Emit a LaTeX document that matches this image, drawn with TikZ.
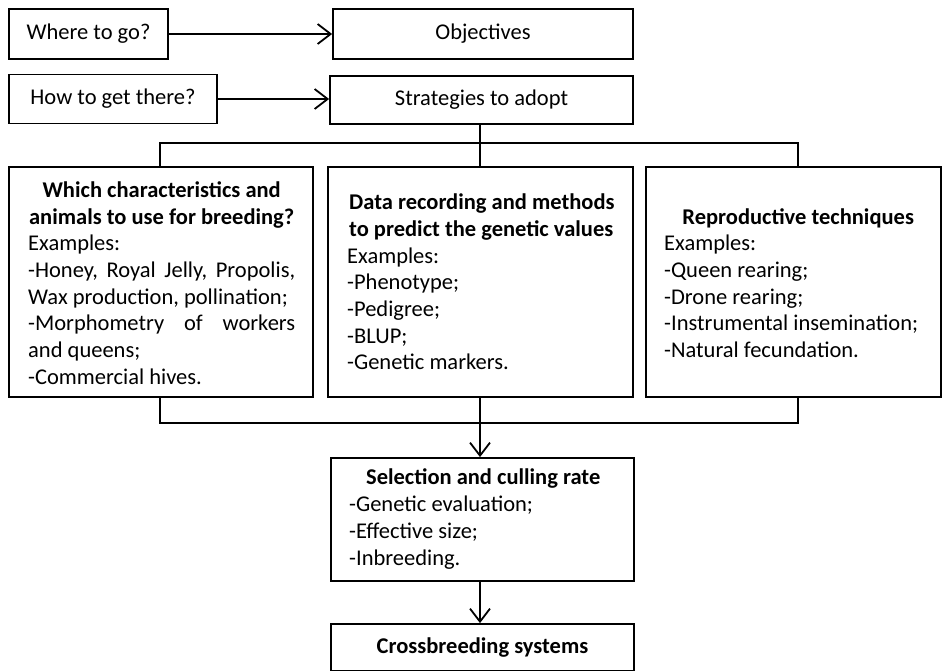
\documentclass[tikz,border=0pt]{standalone}
\usepackage{fontspec}
\setmainfont{Carlito}
\usetikzlibrary{arrows.meta}
\tikzset{
  box/.style={draw, line width=1.8pt, inner sep=0pt, fill=white},
  txt/.style={inner sep=0pt, font=\fontsize{22.5}{26.7}\selectfont},
  conn/.style={line width=1.8pt},
  arr/.style={line width=1.8pt, -{Straight Barb[length=13pt,width=20pt,line width=1.8pt]}},
}
\begin{document}
\begin{tikzpicture}[x=1pt,y=-1pt]
\useasboundingbox (0,0) rectangle (942,670);
% top row
\node[box, minimum width=159pt, minimum height=50pt, txt] (where) at (88.5,34) {Where to go?};
\node[box, minimum width=300pt, minimum height=50pt, txt] (obj) at (483,34) {Objectives};
\node[box, minimum width=208pt, minimum height=49pt, txt] (how) at (113,99) {How to get there?};
\node[box, minimum width=303pt, minimum height=48pt, txt] (strat) at (481.5,100) {Strategies to adopt};
\draw[arr] (where.east) -- (where.east -| obj.west);
\draw[arr] (how.east) -- (how.east -| strat.west);
% three boxes
\node[box, minimum width=304pt, minimum height=230pt] (lbox) at (161,282) {};
\node[box, minimum width=305pt, minimum height=230pt] (mbox) at (480.5,282) {};
\node[box, minimum width=295pt, minimum height=230pt] (rbox) at (793.5,282) {};
\node[txt, anchor=west] (ltext) at (28,283) {\begin{minipage}{267pt}
{\centering\bfseries Which characteristics and\\ animals to use for breeding?\par}
Examples:\\
-Honey,\hfill Royal\hfill Jelly,\hfill Propolis,\\
Wax production, pollination;\\
-Morphometry\hfill of\hfill workers\\
and queens;\\
-Commercial hives.
\end{minipage}};
\node[txt, anchor=west] (mtext) at (347,282) {\begin{minipage}{272pt}\raggedright
{\bfseries\hspace*{2pt}Data recording and methods\\ \hspace*{2pt}to predict the genetic values\par}
Examples:\\
-Phenotype;\\
-Pedigree;\\
-BLUP;\\
-Genetic markers.
\end{minipage}};
\node[txt, anchor=west] (rtext) at (664,283) {\begin{minipage}{268pt}
{\centering\bfseries Reproductive techniques\par}
\raggedright
Examples:\\
-Queen rearing;\\
-Drone rearing;\\
-Instrumental insemination;\\
-Natural fecundation.
\end{minipage}};
% connectors top
\coordinate (tl) at (160,143);
\coordinate (tr) at (798,143);
\coordinate (bl) at (160,423);
\coordinate (br) at (798,423);
\coordinate (bm) at (480,423);
\draw[conn] (bm |- strat.south) -- (bm |- tl);
\draw[conn] (tl |- lbox.north) -- (tl) -- (tr) -- (tr |- rbox.north);
\draw[conn] (bm |- tl) -- (bm |- mbox.north);
% selection
\node[box, minimum width=303pt, minimum height=123pt] (sel) at (482.5,519.5) {};
\node[txt, anchor=west] (seltext) at (349,519) {\begin{minipage}{268pt}
{\centering\bfseries Selection and culling rate\par}
\raggedright
-Genetic evaluation;\\
-Effective size;\\
-Inbreeding.
\end{minipage}};
\draw[conn] (tl |- lbox.south) -- (bl) -- (br) -- (tr |- rbox.south);
\draw[conn] (bm |- mbox.south) -- (bm);
\draw[arr] (bm) -- (bm |- sel.north);
% crossbreeding
\node[box, minimum width=303pt, minimum height=47pt, txt, font=\fontsize{22.5}{26.7}\selectfont\bfseries] (cross) at (482.5,647.5) {Crossbreeding systems};
\draw[arr] (bm |- sel.south) -- (bm |- cross.north);
\end{tikzpicture}
\end{document}
